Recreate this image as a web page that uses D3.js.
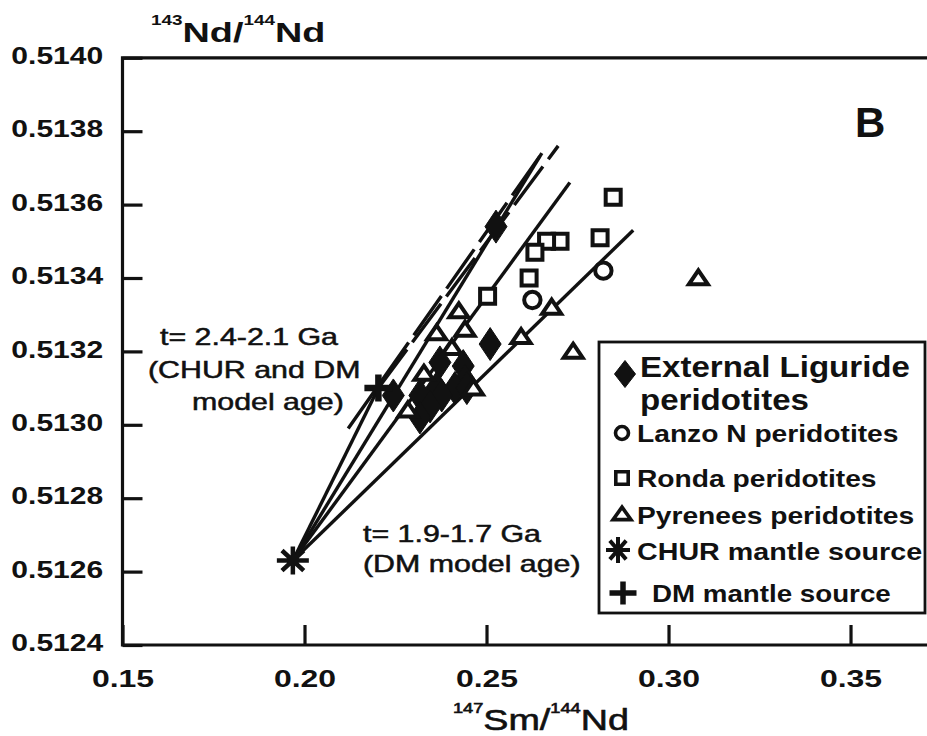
<!doctype html>
<html>
<head>
    <meta charset="utf-8">
    <title>Sm-Nd isochron diagram B</title>
    <style>
        body {
            margin: 0;
            background: #FFFFFF;
        }

        svg text {
            font-family: "Liberation Sans", Arial, sans-serif;
            fill: #111111;
        }

        .frame, .tick line {
            stroke: #111111;
            stroke-width: 3.2;
            fill: none;
        }

        .ref-line {
            stroke: #111111;
            stroke-width: 3.4;
            fill: none;
        }

        .domain {
            display: none;
        }

        .marker {
            stroke: #111111;
            stroke-width: 4;
            fill: #FFFFFF;
            stroke-linejoin: miter;
        }

        .marker.filled {
            fill: #111111;
            stroke-width: 1;
        }

        .note {
            font-size: 23px;
            stroke: #111111;
            stroke-width: 0.5;
        }
    </style>
</head>
<body>
    <div id="chart"></div>

    <script src="https://cdn.jsdelivr.net/npm/d3@7"></script>
    <script>
        // values: [147Sm/144Nd, 143Nd/144Nd]
        var chur_source = [0.1968, 0.51263];
        var dm_source = [0.2203, 0.51310];

        var external_liguride = [
            [0.2526, 0.51354], [0.2510, 0.51322], [0.2372, 0.51317], [0.2436, 0.51316],
            [0.2441, 0.51312], [0.2413, 0.51310], [0.2363, 0.51310], [0.2377, 0.51308],
            [0.2317, 0.51308], [0.2345, 0.51305], [0.2317, 0.51302], [0.2244, 0.51308],
            [0.2446, 0.51310]
        ];
        var lanzo_n = [[0.2821, 0.51342], [0.2626, 0.51334]];
        var ronda = [
            [0.2848, 0.51362], [0.2812, 0.51351], [0.2702, 0.51350], [0.2665, 0.51350],
            [0.2633, 0.51347], [0.2617, 0.51340], [0.2503, 0.51335]
        ];
        var pyrenees = [
            [0.3082, 0.51340], [0.2738, 0.51320], [0.2679, 0.51332], [0.2595, 0.51324],
            [0.2424, 0.51331], [0.2441, 0.51326], [0.2363, 0.51325], [0.2405, 0.51321],
            [0.2328, 0.51314], [0.2464, 0.51310], [0.2284, 0.51304]
        ];

        // solid model-age lines start at the CHUR source, dashed ones run through DM
        var chur_line_ends = [[0.2203, 0.51310], [0.2652, 0.51374], [0.2729, 0.51366], [0.2903, 0.51353]];
        var dashed_lines = [
            [[0.2120, 0.51299], [0.2652, 0.51374]],
            [[0.2203, 0.51310], [0.2697, 0.51376]]
        ];

        var x_ticks = [0.15, 0.20, 0.25, 0.30, 0.35];
        var y_ticks = [0.5124, 0.5126, 0.5128, 0.5130, 0.5132, 0.5134, 0.5136, 0.5138, 0.5140];

        var legend_labels = [
            ['External Liguride', 'peridotites'],
            ['Lanzo N peridotites'],
            ['Ronda peridotites'],
            ['Pyrenees peridotites'],
            ['CHUR mantle source'],
            ['DM mantle source']
        ];

        var svg_width = 927;
        var svg_height = 736;
        var plot_left = 122.5, plot_right = 930.6, plot_top = 57.8, plot_bottom = 645;

        var svg = d3.select('#chart').append('svg')
            .attr('width', svg_width)
            .attr('height', svg_height);

        var x = d3.scaleLinear().domain([0.15, 0.372]).range([plot_left, plot_right]);
        var y = d3.scaleLinear().domain([0.5124, 0.5140]).range([plot_bottom, plot_top]);

        // axes with inward ticks
        var x_axis = svg.append('g')
            .attr('transform', 'translate(0,' + plot_bottom + ')')
            .call(d3.axisBottom(x).tickValues(x_ticks).tickFormat(d3.format('.2f'))
                .tickSize(-20).tickSizeOuter(0).tickPadding(25));

        x_axis.selectAll('text')
            .attr('transform', 'scale(1.36,1)')
            .style('font-size', '23.5px')
            .style('font-weight', 'bold');

        var y_axis = svg.append('g')
            .attr('transform', 'translate(' + plot_left + ',0)')
            .call(d3.axisLeft(y).tickValues(y_ticks).tickFormat(d3.format('.4f'))
                .tickSize(-20).tickSizeOuter(0).tickPadding(15));

        y_axis.selectAll('text')
            .attr('transform', 'scale(1.28,1)')
            .attr('dy', '0.24em')
            .style('font-size', '23.5px')
            .style('font-weight', 'bold');

        svg.append('path')
            .attr('class', 'frame')
            .attr('d', 'M' + plot_right + ',' + plot_top + 'H' + plot_left + 'V' + plot_bottom + 'H' + plot_right);

        // axis titles
        var y_title = svg.append('text')
            .attr('transform', 'translate(151,42) scale(1.35,1)')
            .style('font-weight', 'bold');
        y_title.append('tspan').attr('dy', -17).style('font-size', '14px').text('143');
        y_title.append('tspan').attr('dy', 17).style('font-size', '28px').text('Nd/');
        y_title.append('tspan').attr('dy', -17).style('font-size', '14px').text('144');
        y_title.append('tspan').attr('dy', 17).style('font-size', '28px').text('Nd');

        var x_title = svg.append('text')
            .attr('transform', 'translate(453,730) scale(1.3,1)')
            .style('stroke', '#111111')
            .style('stroke-width', 0.6);
        x_title.append('tspan').attr('dy', -17).style('font-size', '14px').text('147');
        x_title.append('tspan').attr('dy', 17).style('font-size', '29px').text('Sm/');
        x_title.append('tspan').attr('dy', -17).style('font-size', '14px').text('144');
        x_title.append('tspan').attr('dy', 17).style('font-size', '29px').text('Nd');

        svg.append('text')
            .attr('x', 855)
            .attr('y', 137)
            .style('font-size', '42px')
            .style('font-weight', 'bold')
            .text('B');

        // model-age lines
        var line = d3.line()
            .x(function(d) { return x(d[0]); })
            .y(function(d) { return y(d[1]); });

        svg.selectAll('path.chur-line')
            .data(chur_line_ends)
          .enter().append('path')
            .attr('class', 'ref-line chur-line')
            .attr('d', function(d) { return line([chur_source, d]); });

        svg.selectAll('path.dm-line')
            .data(dashed_lines)
          .enter().append('path')
            .attr('class', 'ref-line dm-line')
            .attr('stroke-dasharray', '48,9')
            .attr('d', line);

        // marker shapes, sizes in pixels
        function diamond(w, h) {
            return 'M0,' + (-h) + 'L' + w + ',0L0,' + h + 'L' + (-w) + ',0Z';
        }

        function square(s) {
            return 'M' + (-s) + ',' + (-s) + 'H' + s + 'V' + s + 'H' + (-s) + 'Z';
        }

        function circle(r) {
            return 'M' + r + ',0A' + r + ',' + r + ' 0 1,1 ' + (-r) + ',0A' + r + ',' + r + ' 0 1,1 ' + r + ',0Z';
        }

        function triangle(w, h) {
            return 'M0,' + (-h * 0.55) + 'L' + w + ',' + (h * 0.45) + 'L' + (-w) + ',' + (h * 0.45) + 'Z';
        }

        function asterisk(w, h) {
            var d = w * 0.68, e = h * 0.72;
            return 'M' + (-w) + ',0H' + w + 'M0,' + (-h) + 'V' + h +
                'M' + (-d) + ',' + (-e) + 'L' + d + ',' + e + 'M' + (-d) + ',' + e + 'L' + d + ',' + (-e);
        }

        function plus(w, h) {
            return 'M' + (-w) + ',0H' + w + 'M0,' + (-h) + 'V' + h;
        }

        function draw_points(data, shape, filled) {
            svg.append('g').selectAll('path')
                .data(data)
              .enter().append('path')
                .attr('class', filled ? 'marker filled' : 'marker')
                .attr('transform', function(d) {
                    return 'translate(' + x(d[0]) + ',' + y(d[1]) + ')';
                })
                .attr('d', shape);
        }

        draw_points(external_liguride, diamond(11, 16.5), true);
        draw_points(ronda, square(7.5), false);
        draw_points(lanzo_n, circle(8.2), false);
        draw_points(pyrenees, triangle(9.5, 14), false);

        svg.append('path')
            .attr('class', 'ref-line')
            .style('stroke-width', 4.5)
            .attr('transform', 'translate(' + x(chur_source[0]) + ',' + y(chur_source[1]) + ')')
            .attr('d', asterisk(16, 14));

        svg.append('path')
            .attr('class', 'ref-line')
            .style('stroke-width', 6.5)
            .attr('transform', 'translate(' + x(dm_source[0]) + ',' + y(dm_source[1]) + ')')
            .attr('d', plus(14, 13.5));

        // annotations
        var notes = [
            [160, 345, 't= 2.4-2.1 Ga'],
            [148, 378, '(CHUR and DM'],
            [192, 410, 'model age)'],
            [363, 542, 't= 1.9-1.7 Ga'],
            [363, 572, '(DM model age)']
        ];

        svg.selectAll('text.note')
            .data(notes)
          .enter().append('text')
            .attr('class', 'note')
            .attr('transform', function(d) {
                return 'translate(' + d[0] + ',' + d[1] + ') scale(1.32,1)';
            })
            .text(function(d) { return d[2]; });

        // legend
        var legend = svg.append('g');

        legend.append('rect')
            .attr('x', 599)
            .attr('y', 342)
            .attr('width', 326)
            .attr('height', 271)
            .attr('fill', '#FFFFFF')
            .attr('stroke', '#111111')
            .attr('stroke-width', 2.8);

        var legend_symbols = [
            { d: diamond(10.5, 13.5), cls: 'marker filled', cx: 625, cy: 374, sw: 1 },
            { d: circle(6.5), cls: 'marker', cx: 622, cy: 433, sw: 3.6 },
            { d: square(6.2), cls: 'marker', cx: 622, cy: 478, sw: 3.6 },
            { d: triangle(9, 12.5), cls: 'marker', cx: 622, cy: 514, sw: 3.6 },
            { d: asterisk(12, 13), cls: 'ref-line', cx: 618, cy: 550, sw: 4 },
            { d: plus(13.5, 11.5), cls: 'ref-line', cx: 623, cy: 593, sw: 5.5 }
        ];
        var legend_text_pos = [[640, 377, 29, 1.14], [637, 442, 23.5, 1.2], [637, 487, 23.5, 1.2],
            [637, 524, 23.5, 1.2], [637, 560, 23.5, 1.22], [652, 602, 23.5, 1.18]];

        legend_symbols.forEach(function(s, i) {
            legend.append('path')
                .attr('class', s.cls)
                .attr('transform', 'translate(' + s.cx + ',' + s.cy + ')')
                .style('stroke-width', s.sw)
                .attr('d', s.d);

            var p = legend_text_pos[i];
            legend_labels[i].forEach(function(label, j) {
                legend.append('text')
                    .attr('transform', 'translate(' + p[0] + ',' + (p[1] + j * 33) + ') scale(' + p[3] + ',1)')
                    .style('font-size', p[2] + 'px')
                    .style('font-weight', 'bold')
                    .text(label);
            });
        });
    </script>
</body>
</html>
